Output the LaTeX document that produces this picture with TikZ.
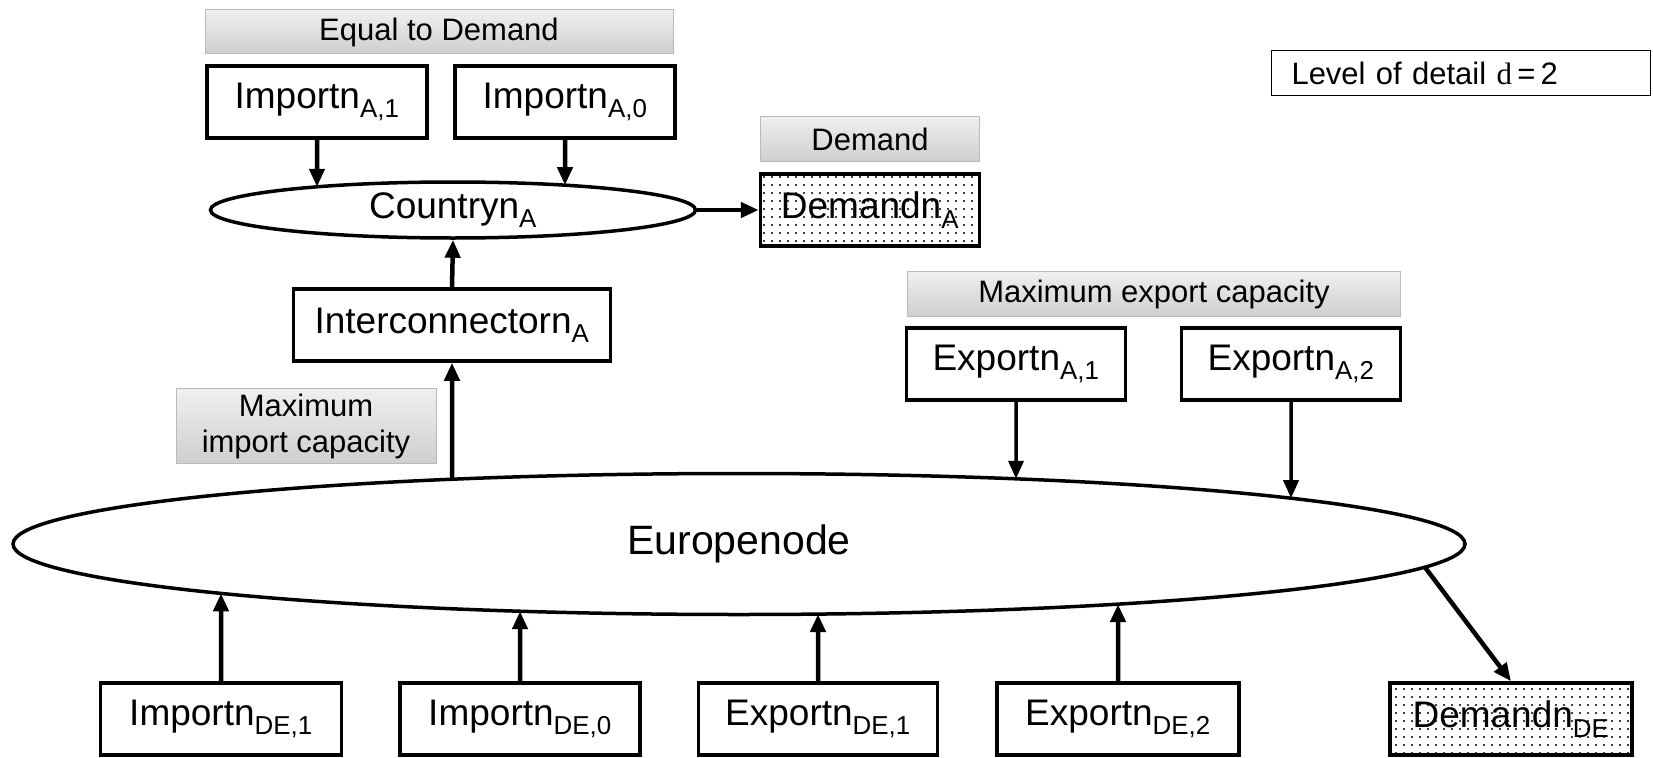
\documentclass[tikz,border=0pt]{standalone}
\usepackage{fontspec}
\setmainfont{Liberation Sans}
\newfontfamily\detailfont{Liberation Serif}
\usetikzlibrary{shapes.geometric,arrows.meta,patterns.meta,intersections}

\tikzdeclarepattern{
  name=demdots,
  type=colored,
  bottom left={(-.1pt,-.1pt)},
  top right={(8.1pt,8.1pt)},
  tile size={(8pt,8pt)},
  code={\tikzset{x=1pt,y=1pt}\fill[black] (4,4) circle (1.1);}
}

\begin{document}
\begin{tikzpicture}[x=1pt,y=-1pt,
  box/.style={draw,line width=3.5pt,minimum width=220pt,minimum height=72pt,inner sep=0pt,font=\fontsize{37}{40}\selectfont},
  dembox/.style={box,pattern=demdots},
  note/.style={draw=gray!55,line width=1pt,top color=gray!12,bottom color=gray!38,inner sep=0pt,align=center,font=\fontsize{31}{36}\selectfont},
  hub/.style={draw,ellipse,line width=3.5pt,inner sep=0pt,font=\fontsize{37}{40}\selectfont},
  arr/.style={line width=4.5pt,-{Triangle[length=18pt,width=15pt]}}]
\useasboundingbox (0,0) rectangle (1653,757);

% country A
\node[note,minimum width=468pt,minimum height=44pt] (eqlab) at (439,32) {Equal to Demand};
\node[box] (impA1) at (317,102) {Importn\textsubscript{A,1}};
\node[box] (impA0) at (565,102) {Importn\textsubscript{A,0}};
\node[hub,name path=co,minimum width=485pt,minimum height=56pt] (country) at (453,210) {Countryn\textsubscript{A}};
\node[note,minimum width=219pt,minimum height=44pt] (demlab) at (870,139) {Demand};
\node[dembox,minimum width=219pt] (demA) at (870,210) {Demandn\textsubscript{A}};
\node[box,minimum width=317pt] (inter) at (452,325) {Interconnectorn\textsubscript{A}};
\node[note,minimum width=260pt,minimum height=75pt] (implab) at (306,426) {Maximum\\import capacity};

% exports to A
\node[note,minimum width=493pt,minimum height=45pt] (explab) at (1154,294) {Maximum export capacity};
\node[box,minimum width=219pt] (expA1) at (1016,364) {Exportn\textsubscript{A,1}};
\node[box,minimum width=219pt] (expA2) at (1291,364) {Exportn\textsubscript{A,2}};

\node[draw,line width=1.5pt,minimum width=379pt,minimum height=45pt,text width=339pt,align=left,inner sep=0pt,font=\fontsize{31}{36}\selectfont] (level) at (1461,73) {Level\ of\ detail\ {\detailfont d}\,=\,2};

% europe
\node[hub,name path=eu,minimum width=1452pt,minimum height=141pt,font=\fontsize{41}{44}\selectfont] (europe) at (739,544) {Europenode};
\node[box,minimum width=241pt] (impDE1) at (221,719) {Importn\textsubscript{DE,1}};
\node[box,minimum width=240pt] (impDE0) at (520,719) {Importn\textsubscript{DE,0}};
\node[box,minimum width=239pt] (expDE1) at (818,719) {Exportn\textsubscript{DE,1}};
\node[box,minimum width=242pt] (expDE2) at (1118,719) {Exportn\textsubscript{DE,2}};
\node[dembox,minimum width=242pt] (demDE) at (1511,719) {Demandn\textsubscript{DE}};

% arrows
\foreach \s in {impA1,impA0}{
  \path[name path=ray] (\s.south) -- ++(0,150);
  \draw[arr,name intersections={of=ray and co,sort by=ray,by=hit}] (\s.south) -- (hit);
}
\draw[arr] (country.east) -- (demA.west);
\draw[arr] (inter.north) -- (country.south);
\path[name path=ray] (inter.south) -- ++(0,200);
\draw[arr,name intersections={of=ray and eu,sort by=ray,by=hit}] (hit) -- (inter.south);
\foreach \s in {expA1,expA2}{
  \path[name path=ray] (\s.south) -- ++(0,200);
  \draw[arr,line width=3.5pt,name intersections={of=ray and eu,sort by=ray,by=hit}] (\s.south) -- (hit);
}
\foreach \s in {impDE1,impDE0,expDE1,expDE2}{
  \path[name path=ray] (\s.north) -- ++(0,-200);
  \draw[arr,name intersections={of=ray and eu,sort by=ray,by=hit}] (\s.north) -- (hit);
}
\draw[arr] (europe.-2) -- (demDE.north);
\end{tikzpicture}
\end{document}
